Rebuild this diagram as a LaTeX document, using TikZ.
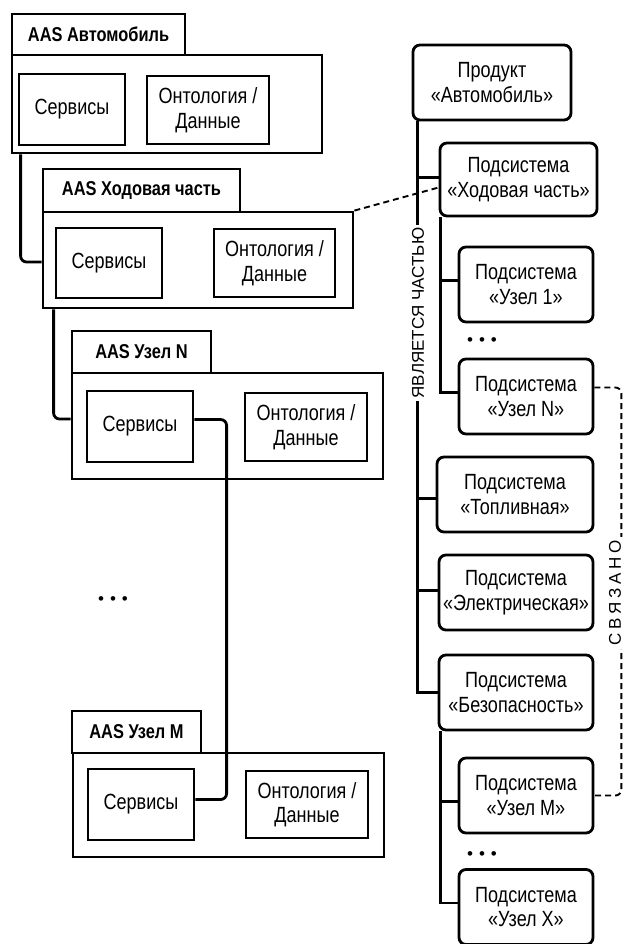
\documentclass[tikz,border=0pt]{standalone}
\usepackage{fontspec}
\setmainfont{Liberation Sans}[FakeStretch=0.82]
\newfontfamily\lblfont{Liberation Sans}
\newfontfamily\svfont{Liberation Sans}[LetterSpace=22]
\usetikzlibrary{calc}
\tikzset{
  every node/.style={font=\fontsize{22}{24.5}\selectfont, align=center, inner sep=0pt},
  bigbox/.style={draw, line width=2.8pt, minimum width=#1},
  titlebox/.style={draw, line width=2.8pt, font=\bfseries\fontsize{20}{22}\selectfont},
  innerbox/.style={draw, line width=2.8pt},
  subbox/.style={draw, line width=2.8pt, rounded corners=7pt, fill=white},
  conn/.style={line width=2.8pt},
  dconn/.style={line width=1.9pt, dash pattern=on 6pt off 4pt},
  dots/.style={font=\lblfont\fontsize{17}{17}\selectfont},
  vlabel/.style={rotate=90, fill=white, inner sep=3pt, font=\lblfont\fontsize{17}{20}\selectfont},
}
\newcommand{\threedots}{•\hspace{6pt}•\hspace{6pt}•}
\begin{document}
\begin{tikzpicture}[x=1pt,y=-1pt]
\useasboundingbox (0,0) rectangle (624,944);

% ---------- AAS Автомобиль
\node[bigbox=310pt, minimum height=98pt] (Amain) at (167,104) {};
\node[titlebox, minimum width=173pt, minimum height=41pt] (Atitle) at (98.5,34.5) {AAS Автомобиль};
\node[innerbox, minimum width=106pt, minimum height=71pt] (Asrv) at (72,109.5) {Сервисы};
\node[innerbox, minimum width=122pt, minimum height=68pt] (Aont) at (208,110) {Онтология /\\Данные};

% ---------- AAS Ходовая часть
\node[bigbox=310pt, minimum height=96pt] (Hmain) at (198,260) {};
\node[titlebox, minimum width=197pt, minimum height=43pt] (Htitle) at (141.5,190.5) {AAS Ходовая часть};
\node[innerbox, minimum width=106pt, minimum height=70pt] (Hsrv) at (109,263) {Сервисы};
\node[innerbox, minimum width=121pt, minimum height=68pt] (Hont) at (274.5,263) {Онтология /\\Данные};

% ---------- AAS Узел N
\node[bigbox=311pt, minimum height=106pt] (Nmain) at (227.5,426) {};
\node[titlebox, minimum width=139pt, minimum height=42pt] (Ntitle) at (141.5,352) {AAS Узел N};
\node[innerbox, minimum width=106pt, minimum height=71pt] (Nsrv) at (140,426.5) {Сервисы};
\node[innerbox, minimum width=122pt, minimum height=68pt] (Nont) at (306,427) {Онтология /\\Данные};

% ---------- AAS Узел M
\node[bigbox=311pt, minimum height=104pt] (Mmain) at (228.5,805) {};
\node[titlebox, minimum width=129pt, minimum height=42pt] (Mtitle) at (136.5,732) {AAS Узел M};
\node[innerbox, minimum width=106pt, minimum height=71pt] (Msrv) at (141,804.5) {Сервисы};
\node[innerbox, minimum width=122pt, minimum height=67pt] (Mont) at (307,804.5) {Онтология /\\Данные};

\node[dots] (ldots) at (113,601) {\threedots};

% ---------- right column
\node[subbox, minimum width=158pt, minimum height=75pt] (P) at (492,82.5) {Продукт\\«Автомобиль»};
\node[subbox, minimum width=157pt, minimum height=73pt] (SH) at (518.5,179.5) {Подсистема\\«Ходовая часть»};
\node[subbox, minimum width=134pt, minimum height=75pt] (S1) at (526,284.5) {Подсистема\\«Узел 1»};
\node[dots] (rdots1) at (482,342) {\threedots};
\node[subbox, minimum width=134pt, minimum height=75pt] (SN) at (526,396.5) {Подсистема\\«Узел N»};
\node[subbox, minimum width=156pt, minimum height=75pt] (ST) at (515,494.5) {Подсистема\\«Топливная»};
\node[subbox, minimum width=154pt, minimum height=75pt] (SE) at (516,592.5) {Подсистема\\«Электрическая»};
\node[subbox, minimum width=154pt, minimum height=75pt] (SB) at (516,692.5) {Подсистема\\«Безопасность»};
\node[subbox, minimum width=134pt, minimum height=75pt] (SM) at (526,795.5) {Подсистема\\«Узел M»};
\node[dots] (rdots2) at (482,856) {\threedots};
\node[subbox, minimum width=134pt, minimum height=75pt] (SX) at (526,907) {Подсистема\\«Узел X»};

% ---------- left connectors
\draw[conn, rounded corners=6pt] ($(Amain.south west)+(10,0)$) |- ($(Hmain.west)+(0,2)$);
\draw[conn, rounded corners=6pt] ($(Hmain.south west)+(12,0)$) |- ($(Nmain.west)+(0,-7)$);
\draw[conn, rounded corners=6pt] ($(Nsrv.east)+(0,-7)$) -| ($(Mmain.north west)+(155,0)$) |- ($(Msrv.east)+(0,-5)$);

% ---------- dashed links
\draw[dconn] ($(Amain.north east)+(0,20)$) -- ($(Amain.north east)+(0,20)$ -| P.west);
\draw[dconn] (Hmain.north east) -- ($(SH.west)+(0,8)$);
\draw[dconn] ($(Nmain.east)+(0,-3)$) -- ($(Nmain.east)+(0,-3)$ -| SN.west);
\draw[dconn] ($(Mont.south east)+(0,-12)$) -- ($(Mont.south east)+(0,-12)$ -| SM.west);
\draw[dconn, rounded corners=6pt] ($(SN.east)+(0,-9)$) -- ($(SN.east)+(27,-9)$) |- (SM.east);
\node[vlabel, inner sep=4pt, font=\svfont\fontsize{17}{20}\selectfont] (svlbl) at (615,593) {СВЯЗАНО};

% ---------- tree
\coordinate (t1) at ($(P.south west)+(6,0)$);
\draw[conn] (t1) |- (SB.west);
\draw[conn] ($(SH.west -| t1)+(0,-2)$) -- ($(SH.west)+(0,-2)$);
\draw[conn] ($(ST.west -| t1)+(0,4)$) -- ($(ST.west)+(0,4)$);
\draw[conn] ($(SE.west -| t1)+(0,-2)$) -- ($(SE.west)+(0,-2)$);
\node[vlabel] (partlbl) at (418,313) {ЯВЛЯЕТСЯ ЧАСТЬЮ};

\coordinate (t2) at ($(SH.south west)+(2,0)$);
\draw[conn] (t2) |- ($(SN.west)+(0,-4)$);
\draw[conn] ($(S1.west -| t2)+(0,-4)$) -- ($(S1.west)+(0,-4)$);

\coordinate (t3) at ($(SB.south west)+(3,0)$);
\draw[conn] (t3) |- ($(SX.west)+(0,-4)$);
\draw[conn] ($(SM.west -| t3)+(0,6)$) -- ($(SM.west)+(0,6)$);
\end{tikzpicture}
\end{document}
